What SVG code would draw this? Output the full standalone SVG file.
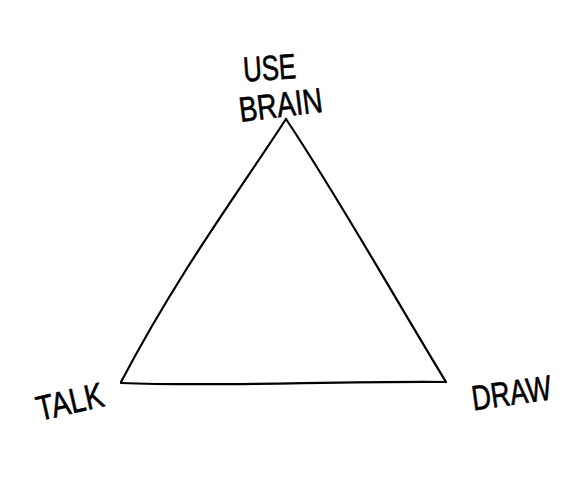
<svg xmlns="http://www.w3.org/2000/svg" width="584" height="477" viewBox="0 0 584 477">
<style>
.lbl{font-family:"Liberation Sans Narrow","Liberation Sans",Arial,sans-serif;font-size:35px;fill:#000;stroke:#000;stroke-width:0.6}
.edge{fill:none;stroke:#000;stroke-width:2.2;stroke-linecap:round;stroke-linejoin:round}
</style>
<rect width="584" height="477" fill="#fff"/>
<g id="connectors">
<path class="edge" d="M286,119 C240,190 180,270 121,382"/>
<path class="edge" d="M286,119 C340,200 390,290 446,382"/>
<path class="edge" d="M121,383 C220,387 330,381 446,382"/>
</g>
<g id="node-brain">
<text class="lbl" x="243" y="80" textLength="53" lengthAdjust="spacingAndGlyphs" transform="rotate(-4 268 68)">USE</text>
<text class="lbl" x="238" y="117" textLength="84" lengthAdjust="spacingAndGlyphs" transform="rotate(-7 280 100)">BRAIN</text>
</g>
<g id="node-talk">
<text class="lbl" x="35" y="414" textLength="68" lengthAdjust="spacingAndGlyphs" transform="rotate(-13 68 398)">TALK</text>
</g>
<g id="node-draw">
<text class="lbl" x="471" y="405" textLength="80" lengthAdjust="spacingAndGlyphs" transform="rotate(-8 511 390)">DRAW</text>
</g>
</svg>
